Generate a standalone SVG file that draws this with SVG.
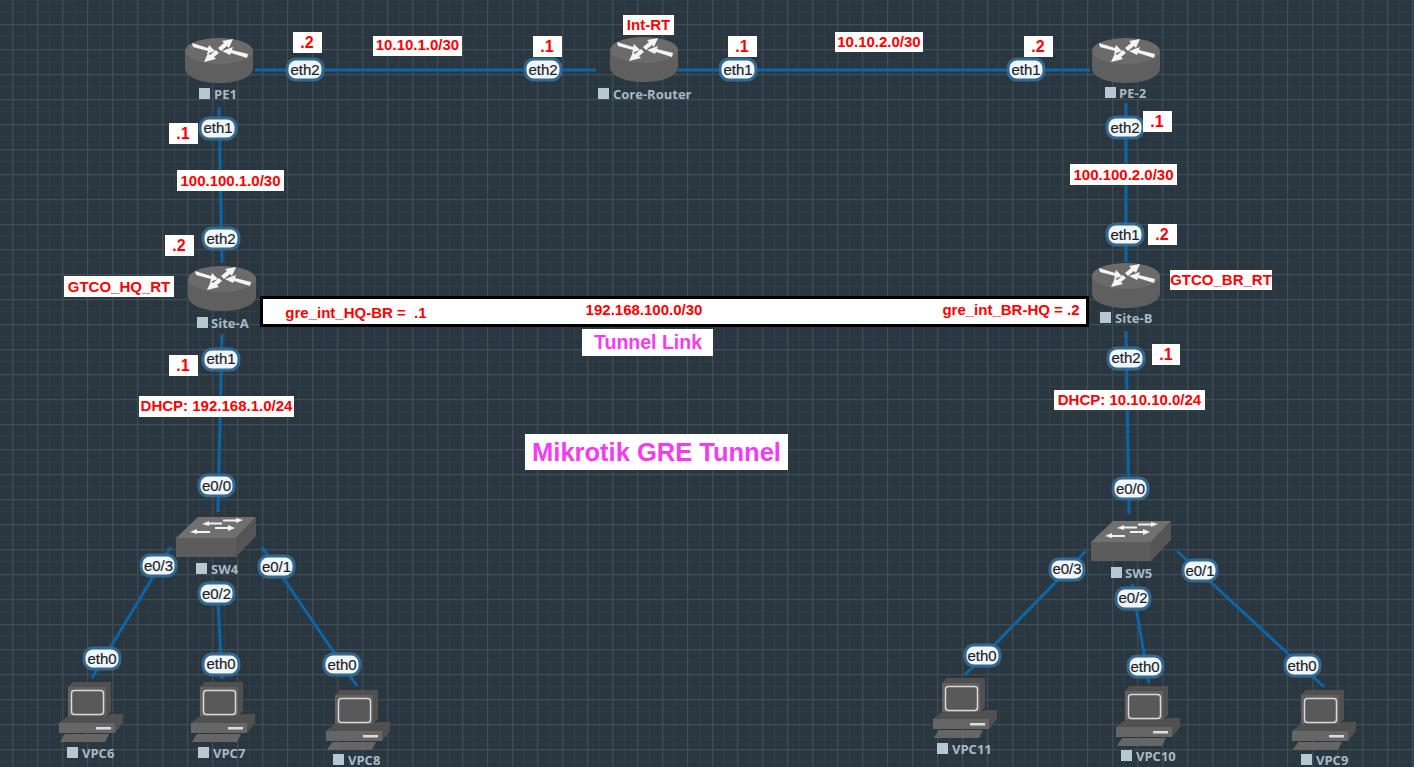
<svg xmlns="http://www.w3.org/2000/svg" width="1414" height="767" viewBox="0 0 1414 767">
<style>
.l{stroke:#0a66a8;stroke-width:3;fill:none}
.p rect{fill:#eff7fd;stroke:#33698f;stroke-width:3}
.p text{font:15px "Liberation Sans",Arial,sans-serif;fill:#1e1e1e;text-anchor:middle;stroke:#1e1e1e;stroke-width:.2}
.r rect{fill:#fff}
.r text{font:bold 15px "Liberation Sans",Arial,sans-serif;fill:#f00;text-anchor:middle;white-space:pre}
.r text.d{font-size:16px}
.n{font:bold 13px "Open Sans","Noto Sans",sans-serif;fill:#a9bac4}
.s{fill:#b9c8d0}
.m text{font-family:"Liberation Sans",Arial,sans-serif;font-weight:bold;fill:#f53af2;text-anchor:middle}
</style>
<defs>
<pattern id="g" width="25" height="25" patternUnits="userSpaceOnUse" patternTransform="translate(12 24)">
<rect width="25" height="25" fill="#2b3740"/>
<path d="M12.500 0V25M0 12.500H25" stroke="#323e47" stroke-width="1"/>
<path d="M.5 0V25M0 .5H25" stroke="#414d55" stroke-width="1.400"/>
</pattern>
<g id="router">
<path d="M-34-9V8C-34 17-19 23 0 23S34 17 34 8V-9Z" fill="#5f5f5f"/>
<ellipse cx="0" cy="-9" rx="34" ry="13" fill="#6b6b6b"/>
<path d="M-27-17-26-13-11-9-12-6-4-9-10-15-11-12Z M14-21 3-19 5-17-1-12 2-9 8-14 10-12Z M-15 2-3-1-5-3 0-7-3-10-9-5-11-7Z M3-9 11-5 12-7 28-2 29-6 13-10 14-13Z" fill="#f4f4f4"/>
</g>
<g id="switch">
<path d="M0 21H60V40H0Z" fill="#5c5c5c"/>
<path d="M0 21 22 0H80L60 21Z" fill="#707070"/>
<path d="M80 0V19L60 40V21Z" fill="#555"/>
<path d="M32 6.500H46M47 3.500H62M20 15H34M39 11H53" stroke="#f2f2f2" stroke-width="2" fill="none"/>
<path d="M26 7 33 4V9ZM67 3 60 1V6ZM14 15 21 12V17ZM59 11 52 8V14Z" fill="#f2f2f2"/>
</g>
<g id="pc">
<path d="M9 5 14 0H52V29L47 35H9Z" fill="#505050"/>
<rect x="9" y="5" width="38" height="30" fill="#616161"/>
<rect x="12.500" y="8.500" width="32" height="24" rx="3" fill="#595959" stroke="#d9d9d9" stroke-width="1.500"/>
<path d="M0 41 9 34H47L52 32H64V41L56 51H0Z" fill="#505050"/>
<path d="M0 41H56V51H0Z" fill="#666"/>
<rect x="37" y="45" width="15" height="2.500" fill="#ddd"/>
<path d="M6 52H50L46 60H1Z" fill="#666"/>
</g>
</defs>
<rect width="1414" height="767" fill="url(#g)"/>
<g id="connectors">
<path class="l" d="M255 70H596M678 70H1090M219 107 222 263M222 334 218 512M1126 103V262M1126 331 1129 514"/>
<path class="l" d="M171 547 92 678M217 581 222 679M262 547 357 686M1086 551 965 675M1132 584 1149 683M1177 551 1324 687"/>
</g>
<g id="PE1"><use href="#router" x="219" y="60"/><rect class="s" x="199" y="88" width="11" height="11"/><text class="n" x="214" y="99">PE1</text></g>
<g id="Core-Router"><use href="#router" x="644" y="59"/><rect class="s" x="598" y="88" width="11" height="11"/><text class="n" x="613" y="99">Core-Router</text></g>
<g id="PE-2"><use href="#router" x="1126" y="60"/><rect class="s" x="1105" y="87" width="11" height="11"/><text class="n" x="1119" y="98">PE-2</text></g>
<g id="Site-A"><use href="#router" x="222" y="288"/><rect class="s" x="197" y="317" width="11" height="11"/><text class="n" x="211" y="328">Site-A</text></g>
<g id="Site-B"><use href="#router" x="1126" y="285"/><rect class="s" x="1100" y="312" width="11" height="11"/><text class="n" x="1115" y="323">Site-B</text></g>
<g id="SW4"><use href="#switch" x="176" y="517"/><rect class="s" x="196" y="563" width="11" height="11"/><text class="n" x="211" y="574">SW4</text></g>
<g id="SW5"><use href="#switch" x="1091" y="521"/><rect class="s" x="1111" y="567" width="11" height="11"/><text class="n" x="1125" y="578">SW5</text></g>
<g id="VPC6"><use href="#pc" x="59" y="682"/><rect class="s" x="67" y="747" width="11" height="11"/><text class="n" x="82" y="758">VPC6</text></g>
<g id="VPC7"><use href="#pc" x="191" y="682"/><rect class="s" x="198" y="747" width="11" height="11"/><text class="n" x="213" y="758">VPC7</text></g>
<g id="VPC8"><use href="#pc" x="326" y="690"/><rect class="s" x="333" y="754" width="11" height="11"/><text class="n" x="348" y="765">VPC8</text></g>
<g id="VPC11"><use href="#pc" x="933" y="678"/><rect class="s" x="937" y="743" width="11" height="11"/><text class="n" x="952" y="754">VPC11</text></g>
<g id="VPC10"><use href="#pc" x="1116" y="686"/><rect class="s" x="1121" y="750" width="11" height="11"/><text class="n" x="1136" y="761">VPC10</text></g>
<g id="VPC9"><use href="#pc" x="1292" y="690"/><rect class="s" x="1301" y="754" width="11" height="11"/><text class="n" x="1316" y="765">VPC9</text></g>
<g id="tunnel"><rect x="261.500" y="297.500" width="826" height="28" fill="#fff" stroke="#000" stroke-width="3"/></g>
<g id="ports" class="p">
<rect x="287" y="59" width="36" height="21" rx="9"/><text x="305" y="75">eth2</text>
<rect x="525" y="59" width="36" height="21" rx="9"/><text x="543" y="75">eth2</text>
<rect x="720" y="59" width="36" height="21" rx="9"/><text x="738" y="75">eth1</text>
<rect x="1008" y="59" width="36" height="21" rx="9"/><text x="1026" y="75">eth1</text>
<rect x="200" y="118" width="36" height="21" rx="9"/><text x="218" y="133">eth1</text>
<rect x="203" y="228" width="36" height="21" rx="9"/><text x="221" y="244">eth2</text>
<rect x="203" y="349" width="36" height="21" rx="9"/><text x="221" y="364">eth1</text>
<rect x="1107" y="117" width="36" height="21" rx="9"/><text x="1125" y="133">eth2</text>
<rect x="1107" y="224" width="36" height="21" rx="9"/><text x="1125" y="240">eth1</text>
<rect x="1108" y="348" width="36" height="21" rx="9"/><text x="1126" y="363">eth2</text>
<rect x="199" y="475" width="35" height="21" rx="9"/><text x="216.500" y="491">e0/0</text>
<rect x="141" y="555" width="35" height="21" rx="9"/><text x="158.500" y="571">e0/3</text>
<rect x="199" y="583" width="35" height="21" rx="9"/><text x="216.500" y="599">e0/2</text>
<rect x="259" y="556" width="35" height="21" rx="9"/><text x="276.500" y="572">e0/1</text>
<rect x="84" y="648" width="36" height="21" rx="9"/><text x="102" y="664">eth0</text>
<rect x="203" y="654" width="36" height="21" rx="9"/><text x="221" y="669">eth0</text>
<rect x="324" y="654" width="36" height="21" rx="9"/><text x="342" y="670">eth0</text>
<rect x="1113" y="478" width="35" height="21" rx="9"/><text x="1130.500" y="494">e0/0</text>
<rect x="1050" y="559" width="34" height="21" rx="9"/><text x="1067" y="574">e0/3</text>
<rect x="1116" y="588" width="34" height="21" rx="9"/><text x="1133" y="603">e0/2</text>
<rect x="1183" y="560" width="34" height="21" rx="9"/><text x="1200" y="576">e0/1</text>
<rect x="965" y="645" width="35" height="21" rx="9"/><text x="982" y="661">eth0</text>
<rect x="1128" y="656" width="35" height="21" rx="9"/><text x="1145" y="672">eth0</text>
<rect x="1285" y="655" width="35" height="21" rx="9"/><text x="1302" y="671">eth0</text>
</g>
<g id="labels" class="r">
<rect x="293" y="32" width="29" height="21"/><text class="d" x="307" y="48">.2</text>
<rect x="373" y="36" width="89" height="20"/><text x="417.500" y="50">10.10.1.0/30</text>
<rect x="533" y="36" width="29" height="21"/><text class="d" x="547" y="52">.1</text>
<rect x="623" y="15" width="51" height="20"/><text x="648.500" y="30">Int-RT</text>
<rect x="728" y="36" width="29" height="21"/><text class="d" x="742" y="52">.1</text>
<rect x="835" y="32" width="88" height="20"/><text x="879" y="47">10.10.2.0/30</text>
<rect x="1024" y="36" width="29" height="21"/><text class="d" x="1038" y="52">.2</text>
<rect x="169" y="123" width="29" height="21"/><text class="d" x="183" y="139">.1</text>
<rect x="1143" y="111" width="29" height="21"/><text class="d" x="1157" y="127">.1</text>
<rect x="177" y="170" width="107" height="21"/><text x="230.500" y="186">100.100.1.0/30</text>
<rect x="1070" y="164" width="107" height="21"/><text x="1123.500" y="180">100.100.2.0/30</text>
<rect x="165" y="235" width="29" height="21"/><text class="d" x="179" y="251">.2</text>
<rect x="1148" y="224" width="29" height="21"/><text class="d" x="1162" y="240">.2</text>
<rect x="64" y="276" width="110" height="21"/><text x="119" y="292">GTCO_HQ_RT</text>
<rect x="1170" y="270" width="102" height="20"/><text x="1221" y="285">GTCO_BR_RT</text>
<rect x="169" y="355" width="29" height="21"/><text class="d" x="183" y="371">.1</text>
<rect x="1152" y="344" width="28" height="21"/><text class="d" x="1166" y="360">.1</text>
<rect x="139" y="396" width="155" height="21"/><text x="216.500" y="411">DHCP: 192.168.1.0/24</text>
<rect x="1054" y="390" width="151" height="20"/><text x="1129.500" y="405">DHCP: 10.10.10.0/24</text>
<text x="356" y="318">gre_int_HQ-BR =  .1</text>
<text x="644" y="315">192.168.100.0/30</text>
<text x="1011" y="315">gre_int_BR-HQ = .2</text>
</g>
<g id="titles" class="m">
<rect x="582" y="329" width="131" height="27" fill="#fff"/><text x="648" y="349" font-size="19.500">Tunnel Link</text>
<rect x="525" y="434" width="263" height="36" fill="#fff"/><text x="656.500" y="461" font-size="25.500">Mikrotik GRE Tunnel</text>
</g>
</svg>
